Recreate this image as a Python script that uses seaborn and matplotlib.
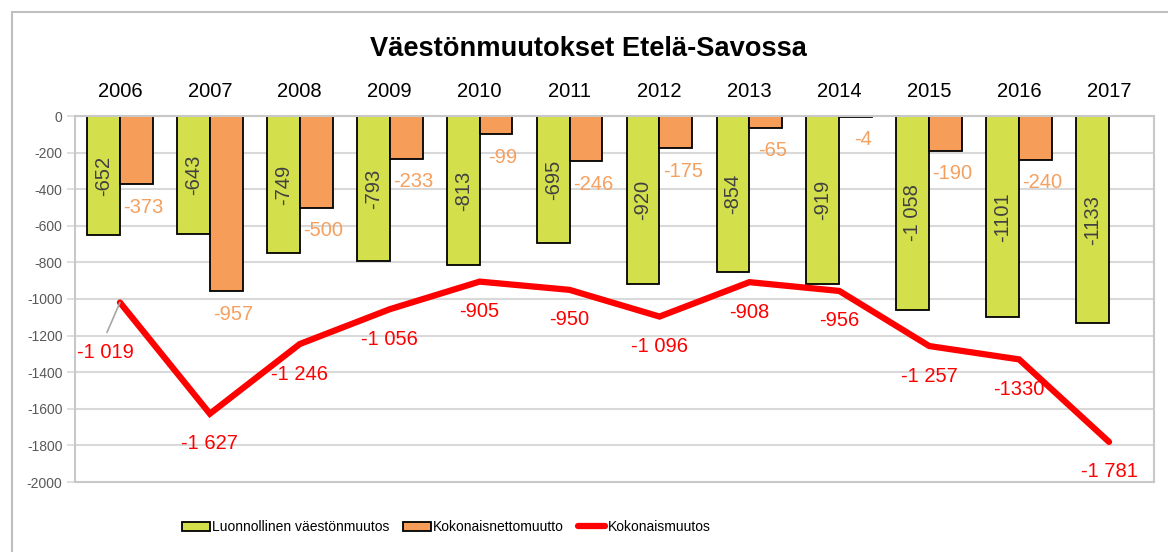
import numpy as np
import pandas as pd
import matplotlib.pyplot as plt
import seaborn as sns
from matplotlib.patches import Patch, Rectangle
from matplotlib.lines import Line2D
from matplotlib import font_manager

# data
years = ['2006', '2007', '2008', '2009', '2010', '2011',
         '2012', '2013', '2014', '2015', '2016', '2017']
luonnollinen = [-652, -643, -749, -793, -813, -695, -920, -854, -919, -1058, -1101, -1133]
nettomuutto = [-373, -957, -500, -233, -99, -246, -175, -65, -4, -190, -240, np.nan]
kokonais = [-1019, -1627, -1246, -1056, -905, -950, -1096, -908, -956, -1257, -1330, -1781]

luonnollinen_labels = ['-652', '-643', '-749', '-793', '-813', '-695',
                       '-920', '-854', '-919', '-1 058', '-1101', '-1133']
nettomuutto_labels = ['-373', '-957', '-500', '-233', '-99', '-246',
                      '-175', '-65', '-4', '-190', '-240']
kokonais_labels = ['-1 019', '-1 627', '-1 246', '-1 056', '-905', '-950',
                   '-1 096', '-908', '-956', '-1 257', '-1330', '-1 781']
yticks = list(range(-2000, 1, 200))

s_green = 'Luonnollinen väestönmuutos'
s_orange = 'Kokonaisnettomuutto'
s_red = 'Kokonaismuutos'

green = '#D4DF4C'
orange = '#F79D5A'
orange_txt = '#F5A05F'
red = '#FF0000'
grid = '#D9D9D9'

sns.set_style('white')
plt.rcParams['font.family'] = ['Liberation Sans', 'DejaVu Sans']
plt.rcParams['text.color'] = 'black'

# legend text in the reference is narrow
installed = {f.name for f in font_manager.fontManager.ttflist}
if 'Liberation Sans Narrow' in installed:
    legend_font = dict(family='Liberation Sans Narrow', size=12.5)
else:
    legend_font = dict(family='Liberation Sans', size=10)

df = pd.DataFrame({
    'vuosi': years * 2,
    'sarja': [s_green] * len(years) + [s_orange] * len(years),
    'arvo': luonnollinen + nettomuutto,
})

fig, ax = plt.subplots(figsize=(11.68, 5.52), dpi=100)
fig.subplots_adjust(left=75 / 1168, right=1154 / 1168, top=1 - 116 / 552, bottom=1 - 482 / 552)

ax.set_axisbelow(True)
ax.yaxis.grid(True, color=grid, linewidth=1.5)

sns.barplot(data=df, x='vuosi', y='arvo', hue='sarja', order=years,
            hue_order=[s_green, s_orange], palette=[green, orange],
            width=0.73, gap=0, edgecolor='black', linewidth=1.3,
            saturation=1, errorbar=None, legend=False, ax=ax)

sns.lineplot(x=np.arange(len(years)), y=kokonais, color=red, linewidth=4.5,
             solid_capstyle='round', solid_joinstyle='miter', ax=ax)

# labels for green bars (inside, rotated)
for bar, lab in zip(ax.containers[0], luonnollinen_labels):
    x = bar.get_x() + bar.get_width() / 2
    y = bar.get_y() + bar.get_height() / 2
    ax.text(x, y, lab, rotation=90, ha='center', va='center',
            fontsize=14.5, color='#404040')

# labels for orange bars (below bar end)
for bar, lab in zip(ax.containers[1], nettomuutto_labels):
    x = bar.get_x() + bar.get_width() / 2
    y = bar.get_y() + bar.get_height()
    ax.annotate(lab, (x, y), xytext=(7, -23), textcoords='offset pixels',
                ha='center', va='center', fontsize=14.5, color=orange_txt)

# labels for line
for i, (v, lab) in enumerate(zip(kokonais, kokonais_labels)):
    if i == 0:
        ax.annotate(lab, (i, v), xytext=(-15, -50), textcoords='offset pixels',
                    ha='center', va='center', fontsize=14.5, color=red)
        # leader line
        ax.annotate('', (i, v), xytext=(-13, -30), textcoords='offset pixels',
                    arrowprops=dict(arrowstyle='-', color='#A6A6A6', lw=1.2,
                                    shrinkA=0, shrinkB=0))
    else:
        ax.annotate(lab, (i, v), xytext=(0, -30), textcoords='offset pixels',
                    ha='center', va='center', fontsize=14.5, color=red)

ax.set_xlim(-0.5, len(years) - 0.5)
ax.set_ylim(-2000, 0)
ax.set_yticks(yticks)
ax.set_yticklabels([str(t) for t in yticks])
ax.set_xlabel('')
ax.set_ylabel('')
ax.xaxis.tick_top()
ax.tick_params(axis='x', length=0, pad=11, labelsize=14.5, labelcolor='black')
ax.tick_params(axis='y', length=6, width=1.2, color=grid, pad=3,
               labelsize=10, labelcolor='#595959', left=True)
for sp in ax.spines.values():
    sp.set_color('#C8C8C8')
    sp.set_linewidth(1.5)

fig.text(0.504, 1 - 56 / 552, 'Väestönmuutokset Etelä-Savossa',
         ha='center', va='baseline', fontsize=19.6, fontweight='bold', color='black')

handles = [Patch(facecolor=green, edgecolor='black', linewidth=1.3),
           Patch(facecolor=orange, edgecolor='black', linewidth=1.3),
           Line2D([0], [0], color=red, linewidth=4.5, solid_capstyle='round')]
fig.legend(handles, [s_green, s_orange, s_red], loc='center',
           bbox_to_anchor=(0.382, 1 - 527 / 552), ncol=3, frameon=False,
           prop=legend_font, handlelength=2.0, handleheight=0.6,
           handletextpad=0.15, columnspacing=1.0)

# outer chart border
fig.patches.append(Rectangle((12 / 1168, -0.1), 1.2, 1.1 - 12 / 552, fill=False,
                             edgecolor='#BFBFBF', linewidth=1.5,
                             transform=fig.transFigure, figure=fig))

plt.savefig('out.png', dpi=100)
